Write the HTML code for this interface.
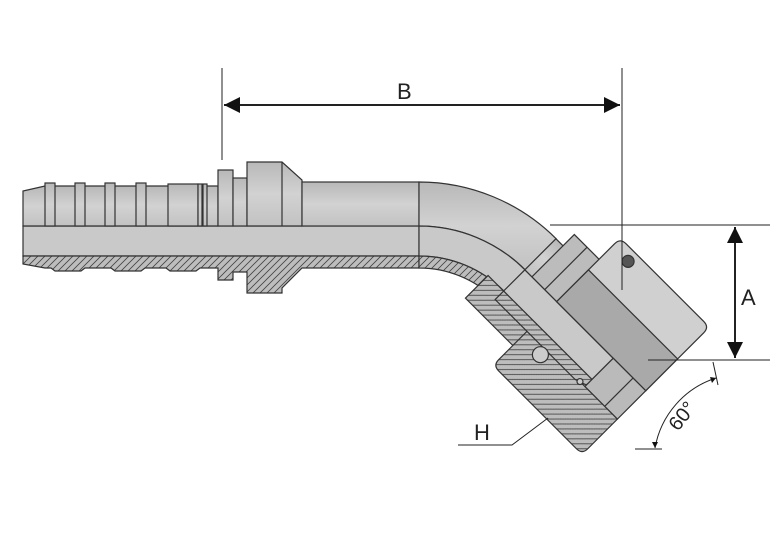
<!DOCTYPE html>
<html><head><meta charset="utf-8"><style>html,body{margin:0;padding:0;background:#fff}svg{display:block}text{font-family:"Liberation Sans",sans-serif;fill:#222}</style></head>
<body>
<svg width="784" height="538" viewBox="0 0 784 538" xmlns="http://www.w3.org/2000/svg">
<defs>
<pattern id="h" patternUnits="userSpaceOnUse" width="7" height="7"><rect width="7" height="7" fill="#bdbdbd"/><path d="M-1,8 L8,-1 M-1,1 L1,-1 M6,8 L8,6" stroke="#444" stroke-width="0.8"/></pattern>
<linearGradient id="ex" x1="0" y1="0" x2="0" y2="1"><stop offset="0" stop-color="#b8b8b8"/><stop offset="0.5" stop-color="#d2d2d2"/><stop offset="1" stop-color="#c2c2c2"/></linearGradient>
<marker id="ar" viewBox="0 0 10 10" refX="10" refY="5" markerWidth="10" markerHeight="8" orient="auto-start-reverse"><path d="M0,0 L10,5 L0,10 Z" fill="#111"/></marker>
</defs>
<g stroke="#333" stroke-width="1.2">
<!-- straight bottom: bore & wall -->
<rect x="23" y="226" width="396" height="30" fill="#c9c9c9"/>
<path d="M23,256 H419 V268 H302 L282,288 V293 H247 V272 H233 V280 H218 V268 H200 L196,271 H170 L166,268 H145 L141,271 H115 L111,268 H85 L81,271 H55 L51,268 H45 L23,264 Z" fill="url(#h)"/>
<!-- straight exterior -->
<path d="M23,226 V191 L45,186 H218 V226 Z" fill="url(#ex)"/>
<g fill="url(#ex)">
<rect x="45" y="183" width="10" height="43"/><rect x="75" y="183" width="10" height="43"/><rect x="105" y="183" width="10" height="43"/><rect x="136" y="183" width="10" height="43"/><rect x="168" y="184" width="30" height="42"/><rect x="198" y="184" width="4" height="42"/><rect x="203" y="184" width="4" height="42"/>
<rect x="218" y="170" width="15" height="56"/><rect x="233" y="178" width="14" height="48"/>
<path d="M247,226 V162 H282 L302,180 V226 Z"/><line x1="282" y1="162" x2="282" y2="226"/>
<rect x="302" y="182" width="117" height="44"/>
<path d="M419,182 A194,194 0 0 1 556.2,238.8 L525.1,269.9 A150,150 0 0 0 419,226 Z"/>
</g>
<path d="M419,226 A150,150 0 0 1 525.1,269.9 L503.9,291.1 A120,120 0 0 0 419,256 Z" fill="#c9c9c9"/>
<path d="M419,256 A120,120 0 0 1 503.9,291.1 L495.4,299.6 A108,108 0 0 0 419,268 Z" fill="url(#h)"/>
<!-- rotated section -->
<g transform="translate(481,226) rotate(45)">
<rect x="40" y="30" width="80" height="32" fill="url(#h)"/>
<path d="M107,40 H233 V82 Q233,90 225,90 H115 Q107,90 107,82 Z" fill="url(#h)"/>
<rect x="62" y="-44" width="12" height="44" fill="url(#ex)"/>
<rect x="72" y="-60" width="36" height="60" fill="#bcbcbc"/>
<line x1="90" y1="-60" x2="90" y2="0"/>
<rect x="62" y="0" width="125" height="30" fill="#c9c9c9"/>
<path d="M62,30 H187 V38 L175,42 H62 Z" fill="url(#h)"/>
<path d="M107,-82 Q107,-90 115,-90 H225 Q233,-90 233,-82 V0 H107 Z" fill="#d0d0d0"/>
<rect x="107" y="-45" width="126" height="45" fill="#a9a9a9"/>
<rect x="187" y="0" width="46" height="40" fill="#bababa"/>
<line x1="215" y1="0" x2="215" y2="40"/>
<circle cx="129" cy="-79" r="6" fill="#555"/>
<circle cx="133" cy="49" r="8" fill="#ccc"/>
<circle cx="180" cy="40" r="3" fill="#ccc"/>
</g>
</g>
<!-- dimensions -->
<g stroke="#222" stroke-width="1" fill="none">
<line x1="222" y1="68" x2="222" y2="160"/>
<line x1="622" y1="68" x2="622" y2="290"/>
<line x1="224" y1="105" x2="620" y2="105" stroke-width="2" marker-start="url(#ar)" marker-end="url(#ar)"/>
<line x1="550" y1="225" x2="770" y2="225"/>
<line x1="648" y1="360" x2="770" y2="360"/>
<line x1="735" y1="227" x2="735" y2="358" stroke-width="2" marker-start="url(#ar)" marker-end="url(#ar)"/>
<line x1="713" y1="362" x2="718" y2="385"/>
<line x1="635" y1="449" x2="662" y2="449"/>
<path d="M716,378 A90,90 0 0 0 655,448"/>
<path d="M458,445 H512 L548,418"/>
</g>
<path d="M716,378 l-6,-1 l2,6 Z M655,448 l-3,-6 l6,0 Z" fill="#111"/>
<text x="397" y="99" font-size="22">B</text>
<text x="741" y="305" font-size="22">A</text>
<text x="474" y="440" font-size="22">H</text>
<text x="0" y="0" font-size="20" transform="translate(678,432) rotate(-52)">60°</text>
</svg>
</body></html>
